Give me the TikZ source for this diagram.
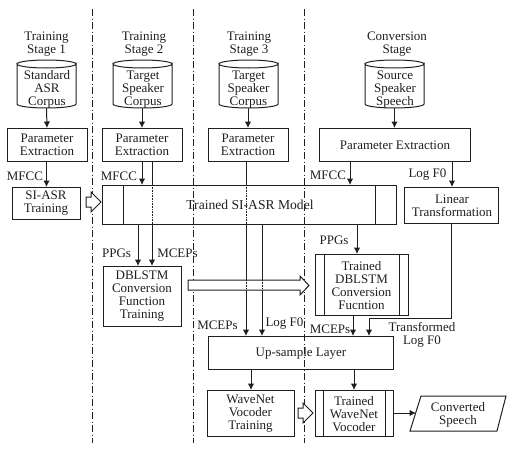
\documentclass[tikz,border=0pt]{standalone}
\usepackage{fontspec}
\setmainfont{Liberation Serif}
\usetikzlibrary{arrows.meta}
\definecolor{ink}{gray}{0.12}
\tikzset{
  x=1pt,y=-1pt,
  every node/.style={font=\fontsize{13}{13}\selectfont,text=ink,align=center,inner sep=0pt},
  ln/.style={draw=ink,line width=1pt},
  arr/.style={ln,-{Latex[length=6.5pt,width=6.5pt]}},
  sep/.style={draw=ink,line width=0.7pt,dash pattern=on 7pt off 2.5pt on 1pt off 2.5pt},
  dotl/.style={draw=ink,line width=0.6pt,densely dotted},
  hollow/.style={draw=ink,line width=1pt,fill=white,line join=miter},
}
\newcommand{\boxnode}[5]{% name x1 y1 x2 y2
  \coordinate (#1-nw) at (#2,#3);\coordinate (#1-se) at (#4,#5);
  \draw[ln] (#1-nw) rectangle (#1-se);
  \node[minimum width=#4pt-#2pt,minimum height=#5pt-#3pt] (#1) at ({(#2+#4)/2},{(#3+#5)/2}) {};
}
\newcommand{\cyl}[5]{% name x1 x2 y1 y2
  \path[ln] (#2,#3+4) arc[start angle=180,end angle=0,x radius={(#4-#2)/2},y radius=4]
     -- (#4,#5-4) arc[start angle=0,end angle=180,x radius={(#4-#2)/2},y radius=4] -- cycle;
  \draw[ln] (#2,#3+4) arc[start angle=180,end angle=360,x radius={(#4-#2)/2},y radius=4];
  \coordinate (#1) at ({(#2+#4)/2},#5);
}
\begin{document}
\begin{tikzpicture}
\useasboundingbox (0,0) rectangle (512,450);
% separators
\coordinate (s1a) at (92,9);\coordinate (s1b) at (92,443);
\coordinate (s2a) at (193,9);\coordinate (s2b) at (193,443);
\coordinate (s3a) at (304,9);\coordinate (s3b) at (304,443);
\draw[sep] (s1a)--(s1b);
\draw[sep] (s2a)--(s2b);
\draw[sep] (s3a)--(s3b);
% stage titles
\node (t1) at (46.5,44.5) {Training\\Stage 1};
\node (t2) at (144,44.5) {Training\\Stage 2};
\node (t3) at (249,44.5) {Training\\Stage 3};
\node (t4) at (397,44.5) {Conversion\\Stage};
% corpora
\cyl{c1}{17}{60}{76}{108}
\cyl{c2}{113}{60}{172}{108}
\cyl{c3}{219}{60}{278}{108}
\cyl{c4}{365}{60}{424}{108}
\node (c1t) at (47,89.5) {Standard\\ASR\\Corpus};
\node (c2t) at (143,89.5) {Target\\Speaker\\Corpus};
\node (c3t) at (248.5,89.5) {Target\\Speaker\\Corpus};
\node (c4t) at (395,89.5) {Source\\Speaker\\Speech};
% boxes
\boxnode{p1}{7}{128}{87}{161}
\boxnode{p2}{102}{128}{182}{161}
\boxnode{p3}{208}{128}{288}{161}
\boxnode{p4}{319}{128}{470}{161}
\node (p1t) at (47,144.5) {Parameter\\Extraction};
\node (p2t) at (142,144.5) {Parameter\\Extraction};
\node (p3t) at (248,144.5) {Parameter\\Extraction};
\node (p4t) at (395,145) {Parameter Extraction};
\boxnode{sia}{12}{187}{80}{219}
\node (siat) at (46,203.5) {SI-ASR\\Training};
\boxnode{lin}{404}{187}{498}{223}
\node (lint) at (452,206) {Linear\\Transformation};
% connectors down from corpora
\draw[arr] (c1) -- (47,128);
\draw[arr] (c2) ++(-0.5,0) -- (142,128);
\draw[arr] (248,108) -- (248,128);
\draw[arr] (394.5,108) -- (394.5,128);
\draw[arr] (46.5,161) -- (46.5,187);
\draw[arr] (350,161) -- (350,185);
\draw[arr] (452,161) -- (452,187);
% hollow arrow 2 under the model and verticals
\draw[hollow] (188,280) -- (300,280) -- (300,276) -- (309,285.5) -- (300,295) -- (300,290) -- (188,290) -- cycle;
% model box
\boxnode{mod}{102}{185}{396}{224}
\draw[ln] (123,185)--(123,224);
\draw[ln] (375,185)--(375,224);
\node[font=\fontsize{13.6}{13}\selectfont] (modt) at (250,204.5) {Trained SI-ASR Model};
% verticals
\draw[arr] (142,161) -- (142,185);
\draw[ln] (152,161) -- (152,185);
\draw[dotl] (152,185) -- (152,224);
\draw[arr] (152,224) -- (152,266);
\draw[arr] (138,224) -- (138,266);
\draw[ln] (246,161) -- (246,185);
\draw[dotl] (246,185) -- (246,224);
\draw[ln] (246,224) -- (246,280);
\draw[dotl] (246,280) -- (246,290);
\draw[arr] (246,290) -- (246,336);
\draw[ln] (262,224) -- (262,280);
\draw[dotl] (262,280) -- (262,290);
\draw[arr] (262,290) -- (262,336);
\draw[arr] (357,224) -- (357,254);
% conversion
\boxnode{dbl}{103}{266}{181}{326}
\node (dblt) at (142,296.5) {DBLSTM\\Conversion\\Function\\Training};
\boxnode{tdb}{315}{254}{408}{315}
\draw[ln] (324,254)--(324,315);
\draw[ln] (399,254)--(399,315);
\node (tdbt) at (361.5,285.5) {Trained\\DBLSTM\\Conversion\\Fucntion};
\boxnode{up}{208}{336}{393}{369}
\node (upt) at (301,353) {Up-sample Layer};
\draw[arr] (353,315) -- (353,336);
\draw[ln] (451,223) -- (451,318) -- (369,318);
\draw[arr] (369,318) -- (369,336);
\boxnode{wt}{207}{390}{294}{436}
\node (wtt) at (250.5,414) {WaveNet\\Vocoder\\Training};
\boxnode{tw}{315}{390}{393}{436}
\draw[ln] (323,390)--(323,436);
\draw[ln] (385,390)--(385,436);
\node (twt) at (354,414) {Trained\\WaveNet\\Vocoder};
\draw[arr] (251,369) -- (251,390);
\draw[arr] (354,369) -- (354,390);
% hollow arrows
\draw[hollow] (86,197) -- (91,197) -- (91,192) -- (101,202) -- (91,212) -- (91,207) -- (86,207) -- cycle;
\draw[hollow] (298,408) -- (303,408) -- (303,403) -- (313,413) -- (303,423) -- (303,418) -- (298,418) -- cycle;
% output
\draw[ln] (421,396) -- (506,396) -- (497,431) -- (410,431) -- cycle;
\node (out) at (458,414.5) {Converted\\Speech};
\draw[arr] (393,413) -- (416,413);
% labels
\node (l1) at (25,176) {MFCC};
\node (l2) at (119,176) {MFCC};
\node (l3) at (328,175) {MFCC};
\node (l4) at (427.5,175) {Log F0};
\node (l5) at (116.5,253) {PPGs};
\node (l6) at (177.5,253) {MCEPs};
\node (l7) at (334,240) {PPGs};
\node (l8) at (217.5,325) {MCEPs};
\node (l9) at (284.5,324) {Log F0};
\node (l10) at (330,329) {MCEPs};
\node (l11) at (422,335) {Transformed\\Log F0};
\end{tikzpicture}
\end{document}
